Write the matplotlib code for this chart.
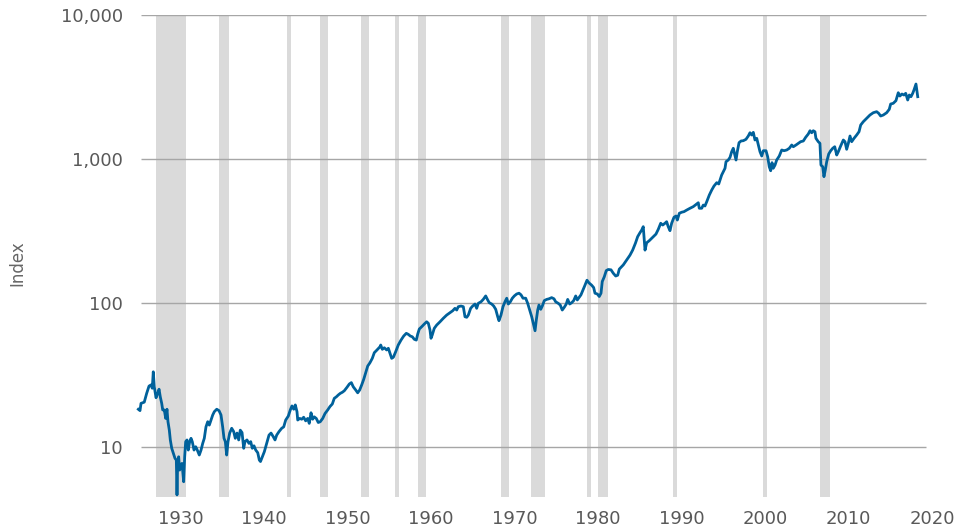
import matplotlib
matplotlib.use("Agg")
import matplotlib.pyplot as plt
from matplotlib.ticker import NullLocator, FixedLocator, FixedFormatter

years = [
    1924.95, 1925.15, 1925.27, 1925.66, 1925.95, 1926.23, 1926.47, 1926.62, 1926.74, 1926.86,
    1927.07, 1927.27, 1927.43, 1927.58, 1927.75, 1927.87, 1928.06, 1928.23, 1928.38, 1928.50,
    1928.66, 1928.78, 1928.95, 1929.14, 1929.34, 1929.50, 1929.58, 1929.66, 1929.78, 1929.90,
    1930.02, 1930.18, 1930.38, 1930.50, 1930.62, 1930.78, 1930.93, 1931.10, 1931.26, 1931.41,
    1931.62, 1931.82, 1932.01, 1932.25, 1932.46, 1932.66, 1932.85, 1933.05, 1933.26, 1933.45,
    1933.65, 1933.86, 1934.05, 1934.34, 1934.61, 1934.85, 1935.05, 1935.21, 1935.37, 1935.53,
    1935.69, 1935.89, 1936.13, 1936.37, 1936.56, 1936.77, 1936.97, 1937.16, 1937.37, 1937.57,
    1937.72, 1937.96, 1938.20, 1938.41, 1938.60, 1938.80, 1939.01, 1939.25, 1939.44, 1939.58,
    1940.04, 1940.32, 1940.60, 1940.84, 1941.11, 1941.32, 1941.52, 1941.80, 1942.12, 1942.36,
    1942.60, 1942.91, 1943.15, 1943.35, 1943.56, 1943.75, 1943.95, 1944.04, 1944.28, 1944.52,
    1944.75, 1944.99, 1945.23, 1945.42, 1945.63, 1945.83, 1946.02, 1946.26, 1946.50, 1946.74,
    1947.03, 1947.31, 1947.63, 1947.90, 1948.18, 1948.42, 1948.66, 1948.90, 1949.14, 1949.38,
    1949.62, 1949.94, 1950.22, 1950.46, 1950.69, 1950.98, 1951.22, 1951.46, 1951.70, 1951.94,
    1952.18, 1952.42, 1952.69, 1952.97, 1953.21, 1953.53, 1953.89, 1953.98, 1954.17, 1954.41,
    1954.69, 1954.89, 1955.09, 1955.29, 1955.49, 1955.77, 1956.08, 1956.41, 1956.73, 1957.04,
    1957.28, 1957.52, 1957.76, 1958.00, 1958.24, 1958.41, 1958.60, 1958.89, 1959.20, 1959.48,
    1959.68, 1959.88, 1960.00, 1960.15, 1960.39, 1960.68, 1961.08, 1961.47, 1961.88, 1962.27,
    1962.60, 1962.87, 1963.08, 1963.27, 1963.59, 1963.87, 1964.07, 1964.28, 1964.47, 1964.75,
    1964.99, 1965.27, 1965.47, 1965.66, 1965.99, 1966.26, 1966.55, 1966.79, 1966.98, 1967.27,
    1967.51, 1967.75, 1967.99, 1968.14, 1968.38, 1968.62, 1968.86, 1969.07, 1969.26, 1969.50,
    1969.74, 1969.98, 1970.26, 1970.54, 1970.78, 1971.02, 1971.34, 1971.58, 1971.82, 1972.06,
    1972.30, 1972.46, 1972.61, 1972.78, 1972.93, 1973.14, 1973.33, 1973.57, 1973.86, 1974.13,
    1974.45, 1974.73, 1974.93, 1975.24, 1975.48, 1975.72, 1975.96, 1976.20, 1976.37, 1976.61,
    1976.85, 1977.09, 1977.33, 1977.52, 1977.72, 1977.96, 1978.20, 1978.44, 1978.68, 1978.92,
    1979.24, 1979.48, 1979.64, 1979.92, 1980.15, 1980.36, 1980.51, 1980.75, 1980.99, 1981.23,
    1981.56, 1981.83, 1982.12, 1982.36, 1982.55, 1983.03, 1983.44, 1983.83, 1984.15, 1984.49,
    1984.75, 1985.03, 1985.23, 1985.42, 1985.63, 1985.83, 1986.14, 1986.55, 1986.94, 1987.22,
    1987.51, 1987.75, 1988.02, 1988.22, 1988.41, 1988.62, 1988.82, 1989.10, 1989.34, 1989.50,
    1989.74, 1990.02, 1990.30, 1990.62, 1991.02, 1991.41, 1991.82, 1992.01, 1992.13, 1992.42,
    1992.61, 1992.81, 1993.02, 1993.33, 1993.62, 1993.89, 1994.22, 1994.46, 1994.61, 1994.81,
    1995.01, 1995.21, 1995.33, 1995.60, 1995.81, 1996.01, 1996.20, 1996.41, 1996.53, 1996.68,
    1996.89, 1997.13, 1997.40, 1997.72, 1998.00, 1998.20, 1998.41, 1998.60, 1998.80, 1999.01,
    1999.20, 1999.40, 1999.61, 1999.80, 2000.12, 2000.32, 2000.51, 2000.68, 2000.84, 2000.99,
    2001.20, 2001.40, 2001.71, 2002.00, 2002.28, 2002.60, 2002.91, 2003.20, 2003.39, 2003.71,
    2003.99, 2004.27, 2004.59, 2004.87, 2005.18, 2005.39, 2005.59, 2005.78, 2005.98, 2006.10,
    2006.38, 2006.58, 2006.70, 2006.91, 2007.06, 2007.22, 2007.39, 2007.63, 2007.87, 2008.11,
    2008.35, 2008.59, 2008.78, 2009.06, 2009.38, 2009.58, 2009.78, 2009.98, 2010.18, 2010.38,
    2010.66, 2010.98, 2011.26, 2011.46, 2011.77, 2012.18, 2012.57, 2012.97, 2013.37, 2013.61,
    2013.85, 2014.17, 2014.57, 2014.88, 2015.05, 2015.36, 2015.68, 2015.96, 2016.16, 2016.40,
    2016.64, 2016.85, 2017.09, 2017.28, 2017.48, 2017.69, 2017.84, 2018.08, 2018.29,
]

index_values = [
    18.3, 17.9, 20.1, 20.5, 23.6, 26.5, 27.0, 25.6, 33.3, 26.2,
    22.0, 23.6, 25.2, 22.3, 20.1, 18.1, 18.1, 15.8, 18.3, 15.0,
    13.1, 11.2, 9.8, 9.04, 8.35, 8.12, 4.65, 7.70, 8.56, 6.92,
    7.50, 7.70, 5.74, 8.56, 10.9, 11.2, 9.53, 10.9, 11.5, 10.9,
    9.53, 10.05, 9.53, 8.80, 9.53, 10.6, 11.5, 13.8, 15.0, 14.2,
    15.4, 16.7, 17.6, 18.3, 17.9, 16.7, 13.8, 11.5, 10.9, 8.80,
    10.9, 12.5, 13.5, 12.8, 11.5, 12.5, 11.2, 13.1, 12.6, 9.8,
    10.9, 11.2, 10.6, 10.9, 9.8, 10.2, 9.53, 9.13, 8.12, 7.93,
    9.28, 10.6, 12.1, 12.5, 11.8, 11.2, 12.1, 12.8, 13.5, 13.8,
    15.4, 16.4, 18.1, 19.3, 18.3, 19.6, 17.6, 15.4, 15.8, 15.6,
    16.1, 15.2, 15.8, 14.6, 17.3, 15.6, 16.2, 15.8, 14.8, 15.0,
    15.8, 17.1, 18.1, 19.1, 19.9, 21.8, 22.3, 23.0, 23.6, 24.0,
    24.6, 26.0, 27.4, 28.0, 26.2, 24.9, 23.8, 24.9, 27.0, 29.5,
    32.8, 36.5, 38.5, 41.3, 45.2, 47.2, 49.7, 51.1, 47.7, 48.9,
    47.2, 48.5, 44.7, 41.3, 42.0, 45.9, 51.1, 55.3, 59.0, 61.6,
    60.6, 59.0, 58.3, 56.0, 55.3, 60.9, 66.0, 68.5, 71.5, 74.1,
    72.3, 64.9, 56.9, 60.0, 66.7, 70.3, 74.1, 78.3, 82.5, 85.6,
    88.4, 91.9, 89.4, 94.3, 95.3, 94.3, 80.3, 79.6, 82.5, 91.9,
    95.3, 98.4, 91.9, 99.5, 102, 106, 112, 105, 100.5, 98.4,
    95.3, 90.4, 80.3, 75.4, 82.5, 94.3, 102, 108, 98.4, 102,
    108, 112, 115.5, 117, 114, 108, 108, 99.5, 89.4, 80.3,
    70.3, 64.2, 76.2, 89.4, 96.8, 90.4, 95.3, 104, 106, 107,
    109, 107, 102, 99.5, 96.8, 89.4, 93.4, 98.4, 106, 98.4,
    100.5, 104, 112, 105, 109, 114, 123, 133, 144, 138,
    133, 128, 117, 115.5, 111, 117, 141, 152, 168, 171,
    170, 161, 154, 156, 172, 184, 199, 215, 233, 261,
    289, 308, 321, 339, 233, 262, 271, 286, 301, 325,
    358, 348, 358, 367, 339, 318, 358, 394, 402, 377,
    420, 427, 431, 442, 455, 467, 487, 497, 455, 455,
    479, 472, 505, 562, 609, 649, 685, 671, 715, 774,
    816, 862, 958, 984, 1027, 1124, 1187, 1049, 984, 1124,
    1298, 1334, 1340, 1370, 1445, 1522, 1468, 1532, 1355, 1392,
    1251, 1124, 1049, 1142, 1142, 1037, 884, 829, 943, 862,
    908, 984, 1049, 1155, 1142, 1155, 1187, 1251, 1217, 1251,
    1285, 1319, 1334, 1415, 1491, 1572, 1522, 1572, 1547, 1392,
    1319, 1285, 908, 884, 754, 839, 958, 1083, 1142, 1187,
    1217, 1066, 1124, 1231, 1355, 1319, 1168, 1285, 1445, 1319,
    1392, 1468, 1547, 1722, 1816, 1917, 2021, 2097, 2131, 2077,
    1989, 2021, 2097, 2213, 2409, 2437, 2541, 2887, 2738, 2827,
    2782, 2859, 2569, 2782, 2708, 2859, 3014, 3317, 2708,
]

band_starts = [1927.07, 1934.61, 1942.72, 1946.71, 1951.62, 1955.69, 1958.44,
               1968.38, 1971.98, 1978.74, 1979.96, 1988.98, 1999.76, 2006.59]
band_ends = [1930.66, 1935.81, 1943.23, 1947.66, 1952.57, 1956.17, 1959.40,
             1969.34, 1973.65, 1979.22, 1981.16, 1989.46, 2000.24, 2007.78]

y_ticks = [10, 100, 1000, 10000]
y_tick_labels = ["10", "100", "1,000", "10,000"]
x_ticks = [1930, 1940, 1950, 1960, 1970, 1980, 1990, 2000, 2010, 2020]
x_tick_labels = [str(t) for t in x_ticks]

assert len(years) == len(index_values)

plt.rcParams['font.family'] = ['DejaVu Sans']

fig = plt.figure(figsize=(9.59, 5.29), dpi=100)
ax = fig.add_axes([0.14294, 0.06106, 0.83065, 0.91058])

ax.set_yscale('log')
ax.set_xlim(1924.8, 2020.2)
ax.set_ylim(4.52, 10000)

for a, b in zip(band_starts, band_ends):
    ax.axvspan(a, b, color='#dadada', lw=0, zorder=1)

ax.hlines(y_ticks, 1925.3, 2019.3, color='#a6a6a6', lw=1.0, zorder=2)

ax.plot(years, index_values, color='#00619b', lw=2.0, zorder=3,
        solid_joinstyle='round', clip_on=False)

ax.yaxis.set_major_locator(FixedLocator(y_ticks))
ax.yaxis.set_major_formatter(FixedFormatter(y_tick_labels))
ax.yaxis.set_minor_locator(NullLocator())
ax.xaxis.set_major_locator(FixedLocator(x_ticks))
ax.xaxis.set_major_formatter(FixedFormatter(x_tick_labels))
ax.xaxis.set_minor_locator(NullLocator())

ax.tick_params(axis='both', length=0, labelsize=13, colors='#595959')
ax.tick_params(axis='y', pad=10.4)
ax.tick_params(axis='x', pad=9.4)

for s in ax.spines.values():
    s.set_visible(False)

fig.text(17.5 / 959, 1 - 263 / 529, "Index", rotation=90, ha='center', va='center',
         fontsize=12, color='#666666')

fig.savefig("out.png", dpi=100)
